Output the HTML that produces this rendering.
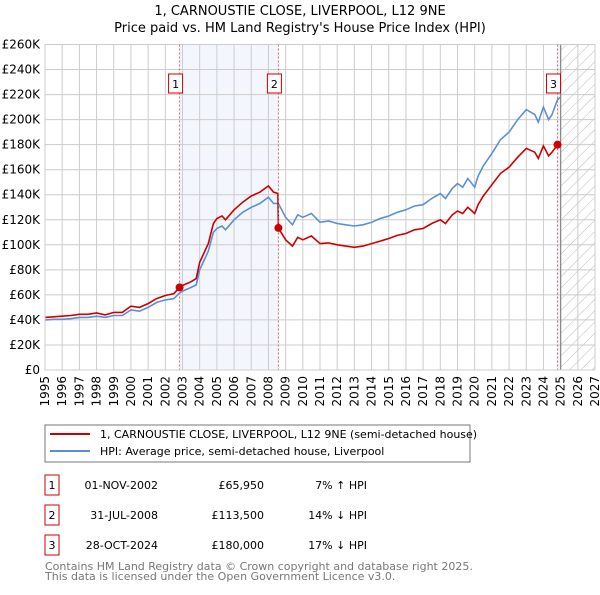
<!DOCTYPE html>
<html><head><meta charset="utf-8"><style>
body{margin:0;background:#fff;font-family:"Liberation Sans","DejaVu Sans",sans-serif;}
svg text{font-family:"DejaVu Sans","Liberation Sans",sans-serif;}
</style></head><body>
<svg id="c" width="600" height="590" xmlns="http://www.w3.org/2000/svg">
<defs><pattern id="hatch" width="8" height="8" patternUnits="userSpaceOnUse" patternTransform="rotate(45)"><line x1="0" y1="0" x2="0" y2="8" stroke="#bbb" stroke-width="1"/></pattern></defs>
<text x="300" y="15" text-anchor="middle" font-size="13">1, CARNOUSTIE CLOSE, LIVERPOOL, L12 9NE</text>
<text x="300" y="32" text-anchor="middle" font-size="13">Price paid vs. HM Land Registry's House Price Index (HPI)</text>
<g id="plot"></g>
<rect x="45" y="425" width="425" height="37" fill="#fff" stroke="#777"/>
<line x1="50" y1="434" x2="90" y2="434" stroke="#cc0000" stroke-width="2"/>
<text x="100" y="438" font-size="11">1, CARNOUSTIE CLOSE, LIVERPOOL, L12 9NE (semi-detached house)</text>
<line x1="50" y1="451" x2="90" y2="451" stroke="#5b8fd4" stroke-width="2"/>
<text x="100" y="455" font-size="11">HPI: Average price, semi-detached house, Liverpool</text>
<g font-size="11">
<rect x="45" y="475" width="14" height="20" fill="#fff" stroke="#cc0000"/><text x="52" y="489" text-anchor="middle">1</text>
<text x="158" y="489" text-anchor="end">01-NOV-2002</text><text x="264" y="489" text-anchor="end">£65,950</text><text x="367" y="489" text-anchor="end">7% ↑ HPI</text>
<rect x="45" y="505" width="14" height="20" fill="#fff" stroke="#cc0000"/><text x="52" y="519" text-anchor="middle">2</text>
<text x="158" y="519" text-anchor="end">31-JUL-2008</text><text x="264" y="519" text-anchor="end">£113,500</text><text x="367" y="519" text-anchor="end">14% ↓ HPI</text>
<rect x="45" y="535" width="14" height="20" fill="#fff" stroke="#cc0000"/><text x="52" y="549" text-anchor="middle">3</text>
<text x="158" y="549" text-anchor="end">28-OCT-2024</text><text x="264" y="549" text-anchor="end">£180,000</text><text x="367" y="549" text-anchor="end">17% ↓ HPI</text>
</g>
<text x="45" y="570" font-size="11" fill="#777">Contains HM Land Registry data © Crown copyright and database right 2025.</text>
<text x="45" y="580" font-size="11" fill="#777">This data is licensed under the Open Government Licence v3.0.</text>
</svg>
<script>
const dates=[1995.0,1995.5,1996.0,1996.5,1997.0,1997.5,1998.0,1998.5,1999.0,1999.5,2000.0,2000.5,2001.0,2001.5,2002.0,2002.5,2002.83,2003.0,2003.5,2003.8,2004.0,2004.5,2004.8,2005.0,2005.3,2005.5,2006.0,2006.5,2007.0,2007.5,2008.0,2008.3,2008.55,2008.58,2009.0,2009.4,2009.7,2010.0,2010.5,2011.0,2011.5,2012.0,2012.5,2013.0,2013.5,2014.0,2014.5,2015.0,2015.5,2016.0,2016.5,2017.0,2017.5,2018.0,2018.3,2018.7,2019.0,2019.3,2019.6,2020.0,2020.2,2020.5,2021.0,2021.5,2022.0,2022.5,2023.0,2023.5,2023.7,2024.0,2024.3,2024.5,2024.82,2025.0];
const hpi=[40,40.5,40.5,41,42,42,43,42,43.5,43.5,48,47,50,54,56,57,61.5,63,66,68,80,95,110,113,115,112,120,126,130,133,138,133,133,133,122,116,124,122,125,118,119,117,116,115,116,118,121,123,126,128,131,132,137,141,137,145,149,146,153,146,155,163,173,184,190,200,208,204,198,210,200,204,216,218];
const paid=[42,42.5,43,43.5,44.5,44.5,45.5,44,46,46,51,50,53,57,59.5,61,65.95,67.5,70.5,73,86,101,117,121,123,120,128,134,139,142,147,142,141,113.5,104,99,106,104,107,101,101.5,100,99,98,99,101,103,105,107.5,109,112,113,117,120,117,124,127,125,130,125,132,139,148,157,162,170,177,174,169,179,171,174,180,182];
const saleDates=[2002.83,2008.58,2024.82];
const saleValues=[65.95,113.5,180];
const saleLabels=["1","2","3"];
const yTicks=[0,20,40,60,80,100,120,140,160,180,200,220,240,260];
const xTicks=[1995,1996,1997,1998,1999,2000,2001,2002,2003,2004,2005,2006,2007,2008,2009,2010,2011,2012,2013,2014,2015,2016,2017,2018,2019,2020,2021,2022,2023,2024,2025,2026,2027];
const NS="http://www.w3.org/2000/svg";
const X0=45,X1=595,Y0=370,Y1=44.5;
const xs=d=>X0+(d-1995)/32*(X1-X0);
const ys=v=>Y0-v/260*(Y0-Y1);
const g=document.getElementById('plot');
function mk(t,a){const e=document.createElementNS(NS,t);for(const k in a)e.setAttribute(k,a[k]);g.appendChild(e);return e;}
let e;
e=mk('rect',{x:xs(saleDates[0]),y:Y1,width:xs(saleDates[1])-xs(saleDates[0]),height:Y0-Y1,fill:'#eef3fc',opacity:0.7});


e=mk('rect',{x:xs(saleDates[2]),y:Y1,width:xs(2025)-xs(saleDates[2]),height:Y0-Y1,fill:'#eef3fc'});


e=mk('rect',{x:xs(2025),y:Y1,width:X1-xs(2025),height:Y0-Y1,fill:'url(#hatch)'});


yTicks.forEach(v=>{
 e=mk('line',{x1:X0,x2:X1,y1:ys(v),y2:ys(v),stroke:'#ccc'});
 
 
 e=mk('text',{x:40,y:ys(v)+4,'text-anchor':'end','font-size':12});
 e.textContent=v===0?'£0':'£'+v+'K';
 
 
});
xTicks.forEach(d=>{
 e=mk('line',{x1:xs(d),x2:xs(d),y1:Y1,y2:Y0,stroke:'#ccc'});
 
 
 e=mk('text',{x:0,y:0,'text-anchor':'end','font-size':12,transform:`translate(${xs(d)+4},376) rotate(-90)`});
 e.textContent=d;
 
 
});
e=mk('line',{x1:xs(2025),x2:xs(2025),y1:Y1,y2:Y0,stroke:'#888','stroke-width':1.2});


function path(vals){return vals.map((v,i)=>(i?'L':'M')+xs(dates[i]).toFixed(1)+','+ys(v).toFixed(1)).join('');}
e=mk('path',{d:path(hpi),fill:'none',stroke:'#5b8fd4','stroke-width':1.6});


e=mk('path',{d:path(paid),fill:'none',stroke:'#cc0000','stroke-width':1.6});


saleDates.forEach((d,i)=>{
 e=mk('line',{x1:xs(d),x2:xs(d),y1:Y1,y2:Y0,stroke:'#e06666','stroke-dasharray':'2,2'});
 
 
 e=mk('circle',{cx:xs(d),cy:ys(saleValues[i]),r:4,fill:'#cc0000'});
 
 
 e=mk('rect',{x:xs(d)-11,y:74,width:14,height:19,fill:'#fff',stroke:'#cc0000'});
 
 
 e=mk('text',{x:xs(d)-4,y:88,'text-anchor':'middle','font-size':11});
 e.textContent=saleLabels[i];
 
 
});
e=mk('rect',{x:X0,y:Y1,width:X1-X0,height:Y0-Y1,fill:'none',stroke:'#ccc'});


</script>
</body></html>
